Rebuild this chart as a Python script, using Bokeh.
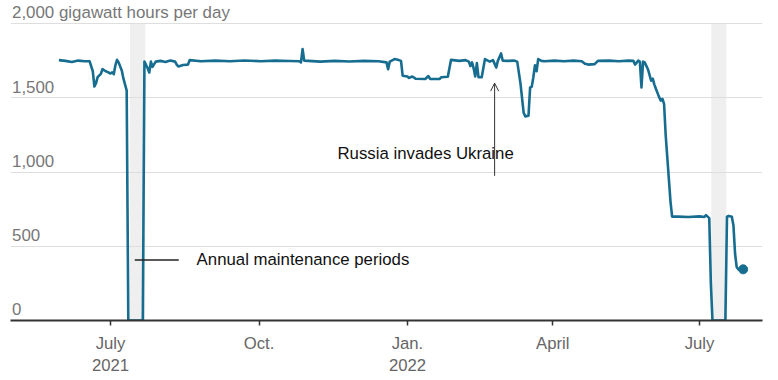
import pandas as pd
from bokeh.plotting import figure
from bokeh.models import Range1d, FixedTicker, Grid, Arrow, OpenHead, ColumnDataSource
from bokeh.core.properties import value
from bokeh.embed import file_html
from bokeh.resources import INLINE

# ---- data ----
dates = [
    "2021-05-30", "2021-06-03", "2021-06-07", "2021-06-11", "2021-06-15", "2021-06-18",
    "2021-06-20", "2021-06-21", "2021-06-22", "2021-06-23", "2021-06-25", "2021-06-26",
    "2021-06-28", "2021-06-29", "2021-07-01", "2021-07-02", "2021-07-03", "2021-07-04",
    "2021-07-05", "2021-07-06", "2021-07-08", "2021-07-09", "2021-07-10", "2021-07-11",
    "2021-07-12", "2021-07-21", "2021-07-22", "2021-07-24", "2021-07-25", "2021-07-26",
    "2021-07-27", "2021-07-29", "2021-08-01", "2021-08-04", "2021-08-07", "2021-08-10",
    "2021-08-11", "2021-08-12", "2021-08-15", "2021-08-18", "2021-08-19", "2021-08-26",
    "2021-09-04", "2021-09-13", "2021-09-22", "2021-10-02", "2021-10-11", "2021-10-20",
    "2021-10-26", "2021-10-27", "2021-10-28", "2021-10-29", "2021-11-08", "2021-11-17",
    "2021-11-26", "2021-12-05", "2021-12-14", "2021-12-19", "2021-12-20", "2021-12-21",
    "2021-12-24", "2021-12-26", "2021-12-28", "2021-12-29",
    "2022-01-01", "2022-01-02", "2022-01-04", "2022-01-06", "2022-01-12", "2022-01-14",
    "2022-01-15", "2022-01-21", "2022-01-22", "2022-01-26", "2022-01-27", "2022-01-28",
    "2022-02-02", "2022-02-06", "2022-02-08", "2022-02-09", "2022-02-10", "2022-02-11",
    "2022-02-12", "2022-02-13", "2022-02-14", "2022-02-16", "2022-02-17", "2022-02-18",
    "2022-02-21", "2022-02-23", "2022-02-25", "2022-02-26", "2022-02-28", "2022-03-01",
    "2022-03-04", "2022-03-08", "2022-03-10", "2022-03-12", "2022-03-14", "2022-03-15",
    "2022-03-17", "2022-03-18", "2022-03-19", "2022-03-20", "2022-03-21", "2022-03-22",
    "2022-03-23", "2022-03-25", "2022-03-27", "2022-04-02", "2022-04-08", "2022-04-14",
    "2022-04-19", "2022-04-21", "2022-04-23", "2022-04-27", "2022-04-29", "2022-05-06",
    "2022-05-12", "2022-05-18", "2022-05-21", "2022-05-22", "2022-05-24", "2022-05-25",
    "2022-05-26", "2022-05-27", "2022-05-28", "2022-05-30", "2022-06-01", "2022-06-02",
    "2022-06-03", "2022-06-04", "2022-06-06", "2022-06-07", "2022-06-08", "2022-06-09",
    "2022-06-10", "2022-06-11", "2022-06-12", "2022-06-13", "2022-06-14", "2022-06-18",
    "2022-06-24", "2022-07-01", "2022-07-04", "2022-07-05", "2022-07-06", "2022-07-07",
    "2022-07-08", "2022-07-09", "2022-07-17", "2022-07-18", "2022-07-19", "2022-07-21",
    "2022-07-22", "2022-07-23", "2022-07-24", "2022-07-25", "2022-07-26", "2022-07-27",
    "2022-07-28",
]
flow = [
    1755, 1750, 1742, 1752, 1748, 1748,
    1680, 1577, 1600, 1640, 1662, 1694,
    1680, 1676, 1665, 1672, 1660, 1720,
    1757, 1740, 1683, 1630, 1590, 1550,
    0, 0, 1745, 1700, 1672, 1745,
    1710, 1745, 1750, 1743, 1752, 1745,
    1725, 1712, 1722, 1725, 1755, 1748,
    1752, 1747, 1753, 1748, 1752, 1749,
    1748, 1740, 1829, 1752, 1745, 1750,
    1746, 1750, 1748, 1740, 1694, 1745,
    1762, 1757, 1750, 1650,
    1645, 1635, 1645, 1630, 1628, 1648,
    1628, 1628, 1640, 1643, 1700, 1757,
    1750, 1755, 1745, 1715, 1740, 1700,
    1645, 1735, 1640, 1640, 1700, 1762,
    1745, 1755, 1705, 1750, 1800, 1752,
    1750, 1752, 1745, 1600, 1400, 1376,
    1380, 1571, 1575, 1640, 1720, 1680,
    1762, 1750, 1748, 1752, 1748, 1752,
    1748, 1730, 1725, 1728, 1750, 1752,
    1748, 1752, 1750, 1725, 1752, 1745,
    1571, 1745, 1740, 1694, 1616, 1630,
    1590, 1560, 1504, 1482, 1494, 1460,
    1250, 1100, 950, 800, 700, 700,
    698, 702, 698, 710, 700, 690,
    250, 0, 0, 700, 705, 700,
    640, 450, 360, 345, 340, 345,
    345,
]

band_start = ["2021-07-13 00:00", "2022-07-08 06:00"]
band_end = ["2021-07-22 12:00", "2022-07-17 14:00"]
band_top = 2000

y_ticks = [0, 500, 1000, 1500, 2000]
y_tick_labels = ["0", "500", "1,000", "1,500", "2,000 gigawatt hours per day"]
x_ticks = ["2021-07-01", "2021-10-01", "2022-01-01", "2022-04-01", "2022-07-01"]
x_tick_labels = ["July\n2021", "Oct.", "Jan.\n2022", "April", "July"]

x_start, x_end = "2021-04-30", "2022-08-09"

maint_label = "Annual maintenance periods"
maint_line = ("2021-07-16 00:00", "2021-08-12 06:00", 408)
maint_text_pos = ("2021-08-23 08:00", 408)
invasion_label = "Russia invades Ukraine"
invasion_date = "2022-02-24 00:00"
invasion_arrow_y = (975, 1600)
invasion_text_pos = ("2021-11-18 15:00", 1128)

LINE = "#176d90"
FONT = "Liberation Sans"

def ts(s):
    return pd.Timestamp(s)

def ms(s):
    return pd.Timestamp(s).value // 10**6

p = figure(
    width=778, height=380, x_axis_type="datetime", y_axis_location=None,
    x_range=Range1d(ts(x_start), ts(x_end)), y_range=Range1d(0, 2157),
    output_backend="svg", toolbar_location=None,
    min_border_left=10, min_border_right=16, min_border_top=0, min_border_bottom=60,
)
p.outline_line_color = None
p.background_fill_color = "white"
for g in p.grid:
    g.visible = False

# shaded maintenance bands
p.quad(left=[ts(s) for s in band_start], right=[ts(s) for s in band_end],
       bottom=[0, 0], top=[band_top, band_top],
       fill_color="#efefef", line_color=None, level="underlay")

grid = Grid(dimension=1, ticker=FixedTicker(ticks=y_ticks[1:]),
            grid_line_color="#dedede", grid_line_width=1)
p.add_layout(grid, "center")

# y labels
p.text(x=[ts(x_start)] * len(y_ticks), y=[t + 75 for t in y_ticks], text=y_tick_labels,
       text_font=value(FONT), text_font_size="16.9px", text_color="#777777",
       text_baseline="alphabetic", text_align="left", x_offset=1.5)

# main line
src = ColumnDataSource(dict(x=[ts(d) for d in dates], y=flow))
p.line("x", "y", source=src, line_color=LINE, line_width=2.6, line_join="round")
p.scatter(x=[ts(dates[-1])], y=[flow[-1]], size=9, color=LINE)

# annotations
p.segment(x0=[ts(maint_line[0])], x1=[ts(maint_line[1])], y0=[maint_line[2]], y1=[maint_line[2]],
          line_color="#222222", line_width=1.5)
p.text(x=[ts(maint_text_pos[0])], y=[maint_text_pos[1]], text=[maint_label],
       text_font=value(FONT), text_font_size="16.8px", text_color="#111111",
       text_baseline="middle", text_align="left")
p.text(x=[ts(invasion_text_pos[0])], y=[invasion_text_pos[1]], text=[invasion_label],
       text_font=value(FONT), text_font_size="16.8px", text_color="#111111",
       text_baseline="middle", text_align="left")
p.add_layout(Arrow(end=OpenHead(size=8, line_width=1, line_color="#333333"),
                   x_start=ts(invasion_date), x_end=ts(invasion_date),
                   y_start=invasion_arrow_y[0], y_end=invasion_arrow_y[1],
                   line_color="#333333", line_width=1))

# x axis
ax = p.xaxis[0]
ax.ticker = FixedTicker(ticks=[ms(t) for t in x_ticks])
ax.major_label_overrides = {ms(t): lab for t, lab in zip(x_ticks, x_tick_labels)}
ax.axis_line_color = "#333333"
ax.axis_line_width = 2
ax.major_tick_line_color = "#333333"
ax.major_tick_line_width = 1.5
ax.major_tick_in = 0
ax.major_tick_out = 5
ax.minor_tick_line_color = None
ax.major_label_standoff = 8
ax.major_label_text_font = FONT
ax.major_label_text_font_size = "16.7px"
ax.major_label_text_color = "#666666"

open("out.html", "w").write(file_html(p, INLINE))
